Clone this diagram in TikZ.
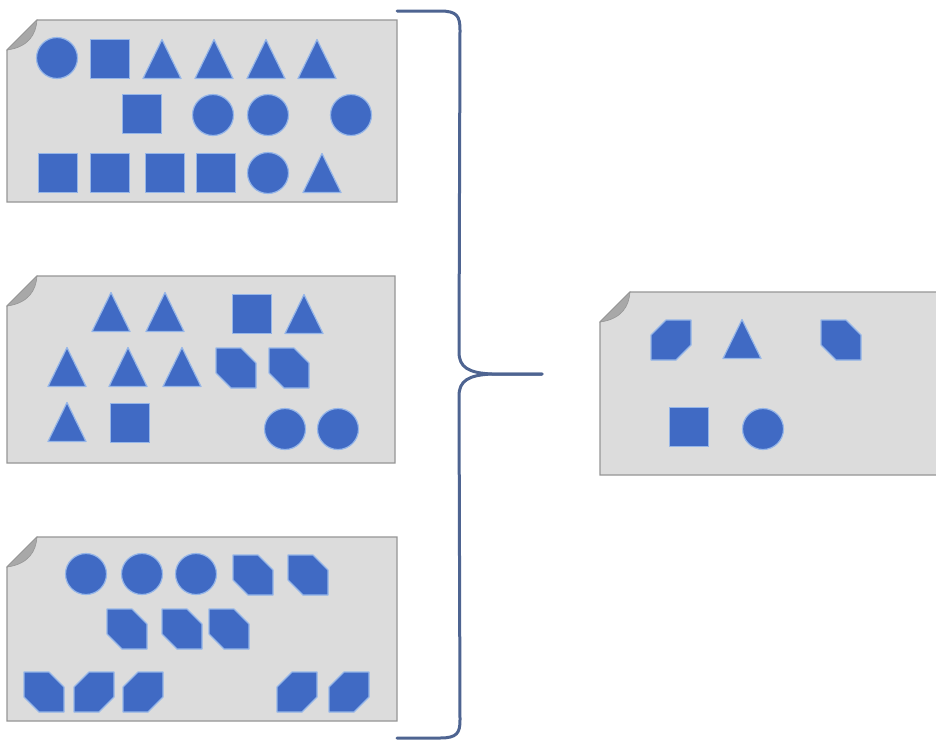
\documentclass[tikz,border=0pt]{standalone}
\begin{document}
\begin{tikzpicture}[x=1pt,y=-1pt]
\definecolor{shp}{RGB}{64,106,196}
\definecolor{glow}{RGB}{150,182,232}
\definecolor{cardfill}{RGB}{220,220,220}
\definecolor{cardline}{RGB}{150,150,150}
\definecolor{foldc}{RGB}{168,168,168}
\definecolor{bracec}{RGB}{78,100,145}
\tikzset{
 shapefill/.style={fill=shp, draw=glow, line width=1.2pt, line join=round},
 cardbox/.style={fill=cardfill, draw=cardline, line width=1.2pt},
 foldpart/.style={fill=foldc, draw=cardline, line width=0.6pt},
 bracepath/.style={draw=bracec, line width=3pt, line cap=round, line join=round},
 circ/.pic={\path[shapefill] (0,0) circle[radius=20.5];},
 sq/.pic={\path[shapefill] (-19.5,-19.5) rectangle (19.5,19.5);},
 tri/.pic={\path[shapefill] (0,-19.5) -- (19,19.5) -- (-19,19.5) -- cycle;},
 bk/.pic={\path[shapefill] (-20,-20) -- (5,-20) -- (20,-5) -- (20,20) -- (-5,20) -- (-20,5) -- cycle;},
 fw/.pic={\path[shapefill] (-5,-20) -- (20,-20) -- (20,5) -- (5,20) -- (-20,20) -- (-20,-5) -- cycle;},
}
\newcommand\papercard[5]{%
 \path[cardbox] (#2,#3+30) -- (#2+30,#3) -- (#4,#3) -- (#4,#5) -- (#2,#5) -- cycle;
 \path[foldpart] (#2,#3+30) -- (#2+30,#3) .. controls (#2+29,#3+14) and (#2+22,#3+27) .. cycle;
 \coordinate (#1) at ({(#2+#4)/2},{(#3+#5)/2});
}
\useasboundingbox (0,0) rectangle (936,742);
\fill[white] (0,0) rectangle (936,742);
\clip (0,0) rectangle (936,742);

% cards
\papercard{cardA}{7}{20}{397}{202}
\papercard{cardB}{7}{276}{395}{463}
\papercard{cardC}{7}{537}{397}{721}
\papercard{cardD}{600}{292}{945}{475}

% card A shapes
\pic at (57,58) {circ};
\pic at (110,59) {sq};
\foreach \x in {162,214,266,317} \pic at (\x,59) {tri};
\pic at (142,114) {sq};
\foreach \x in {213,268,351} \pic at (\x,115) {circ};
\foreach \x in {58,110,165,216} \pic at (\x,173) {sq};
\pic at (268,173) {circ};
\pic at (322,173) {tri};

% card B shapes
\pic at (111,312) {tri};
\pic at (165,312) {tri};
\pic at (252,314) {sq};
\pic at (304,314) {tri};
\foreach \x in {67,128,182} \pic at (\x,367) {tri};
\pic at (236,368) {bk};
\pic at (289,368) {bk};
\pic at (67,422) {tri};
\pic at (130,423) {sq};
\pic at (285,429) {circ};
\pic at (338,429) {circ};

% card C shapes
\foreach \x in {86,142,196} \pic at (\x,574) {circ};
\pic at (253,575) {bk};
\pic at (308,575) {bk};
\foreach \x in {127,182,229} \pic at (\x,629) {bk};
\pic at (44,692) {bk};
\foreach \x in {94,143,297,349} \pic at (\x,692) {fw};

% card D shapes
\pic at (671,340) {fw};
\pic at (742,339) {tri};
\pic at (841,340) {bk};
\pic at (689,427) {sq};
\pic at (763,429) {circ};

% brace
\coordinate (braceTop) at (397,11);
\coordinate (braceTip) at (542,374);
\coordinate (braceBot) at (397,738);
\path[bracepath] (braceTop) -- (440,11) .. controls (457,11) and (460,16) .. (460,30)
  -- (459,352) .. controls (459,367) and (468,373) .. (492,374) -- (braceTip);
\path[bracepath] (braceTip) -- (492,374) .. controls (468,375) and (459,381) .. (459,396)
  -- (460,720) .. controls (460,733) and (457,738) .. (440,738) -- (braceBot);
\end{tikzpicture}
\end{document}
